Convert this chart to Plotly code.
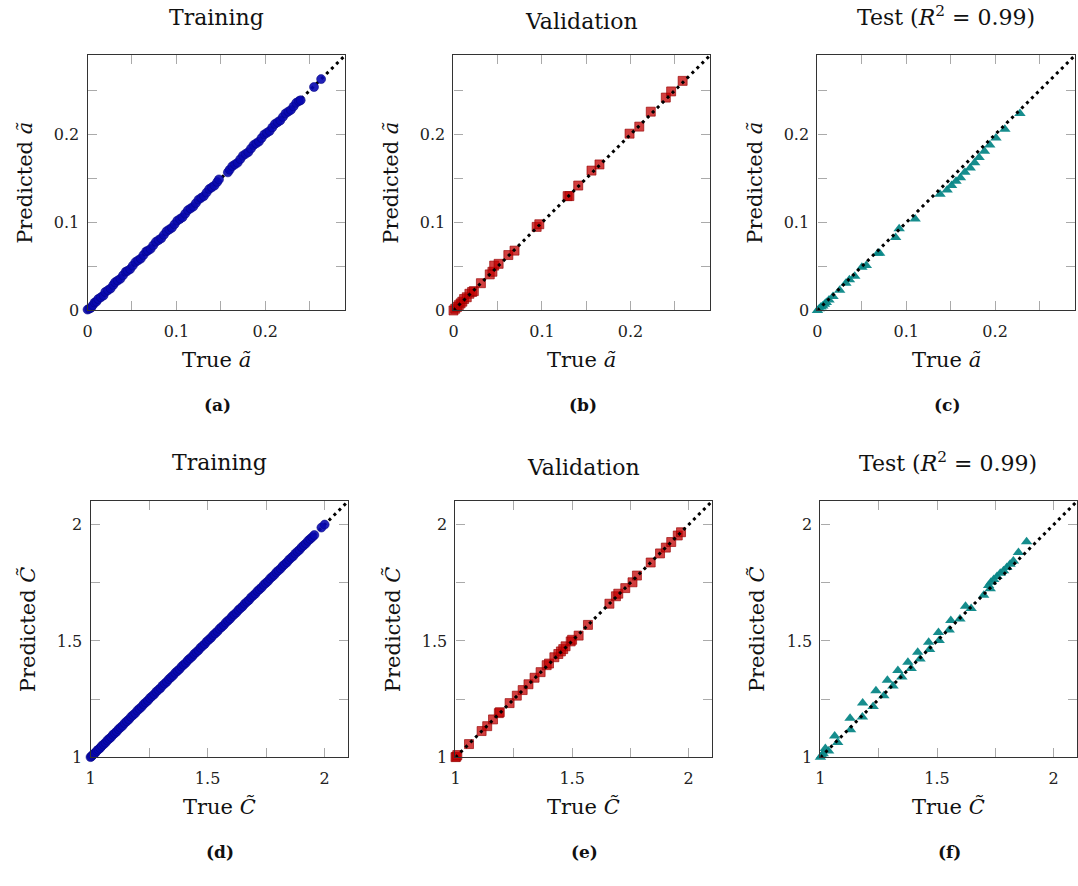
import plotly.graph_objects as go

W, H = 1078, 886

# ---------------- data ----------------
train_a_true = [0.000, 0.002, 0.004, 0.006, 0.008, 0.010, 0.012, 0.015, 0.018, 0.020,
                0.023, 0.026, 0.029, 0.031, 0.034, 0.037, 0.040, 0.043, 0.045, 0.048,
                0.051, 0.054, 0.057, 0.060, 0.063, 0.066, 0.068, 0.071, 0.074, 0.077,
                0.080, 0.083, 0.086, 0.089, 0.092, 0.095, 0.098, 0.101, 0.104, 0.107,
                0.110, 0.113, 0.116, 0.119, 0.122, 0.125, 0.128, 0.131, 0.134, 0.137,
                0.140, 0.143, 0.146, 0.148, 0.158, 0.160, 0.163, 0.166, 0.169, 0.172,
                0.175, 0.178, 0.181, 0.184, 0.187, 0.190, 0.193, 0.196, 0.199, 0.202,
                0.205, 0.208, 0.211, 0.214, 0.217, 0.220, 0.223, 0.226, 0.229, 0.232,
                0.235, 0.238, 0.240, 0.255, 0.263]
train_a_pred = [0.001, 0.002, 0.003, 0.006, 0.009, 0.010, 0.013, 0.015, 0.017, 0.021,
                0.023, 0.025, 0.029, 0.032, 0.034, 0.036, 0.040, 0.044, 0.045, 0.047,
                0.051, 0.055, 0.057, 0.059, 0.063, 0.067, 0.068, 0.070, 0.074, 0.078,
                0.080, 0.082, 0.086, 0.090, 0.092, 0.094, 0.098, 0.102, 0.104, 0.106,
                0.110, 0.114, 0.116, 0.118, 0.122, 0.126, 0.128, 0.130, 0.134, 0.138,
                0.140, 0.142, 0.146, 0.149, 0.157, 0.160, 0.164, 0.166, 0.168, 0.172,
                0.176, 0.178, 0.180, 0.184, 0.188, 0.190, 0.192, 0.196, 0.200, 0.202,
                0.204, 0.208, 0.212, 0.214, 0.216, 0.220, 0.224, 0.226, 0.228, 0.232,
                0.236, 0.238, 0.239, 0.254, 0.263]

val_a_true = [0.000, 0.002, 0.004, 0.006, 0.008, 0.010, 0.012, 0.015, 0.018, 0.021,
              0.023, 0.031, 0.041, 0.044, 0.046, 0.051, 0.062, 0.069, 0.094, 0.097,
              0.129, 0.131, 0.141, 0.156, 0.165, 0.199, 0.210, 0.223, 0.240, 0.246, 0.259]
val_a_pred = [0.000, 0.002, 0.004, 0.006, 0.008, 0.010, 0.013, 0.015, 0.019, 0.021,
              0.022, 0.031, 0.041, 0.044, 0.051, 0.053, 0.063, 0.068, 0.095, 0.098,
              0.130, 0.130, 0.142, 0.159, 0.166, 0.201, 0.209, 0.226, 0.242, 0.249, 0.261]

test_a_true = [0.000, 0.002, 0.004, 0.006, 0.008, 0.010, 0.013, 0.0175, 0.025, 0.032,
               0.036, 0.042, 0.050, 0.055, 0.068, 0.070, 0.088, 0.092, 0.110, 0.138,
               0.146, 0.151, 0.156, 0.161, 0.166, 0.172, 0.177, 0.182, 0.188, 0.194,
               0.201, 0.211, 0.228]
test_a_pred = [0.000, 0.002, 0.004, 0.005, 0.007, 0.009, 0.012, 0.0158, 0.023, 0.031,
               0.035, 0.039, 0.049, 0.051, 0.065, 0.065, 0.083, 0.093, 0.104, 0.132,
               0.137, 0.142, 0.147, 0.151, 0.157, 0.162, 0.168, 0.174, 0.181, 0.188,
               0.196, 0.206, 0.224]

train_C_true = [1.000, 1.004, 1.009, 1.015, 1.021, 1.027, 1.034, 1.041, 1.048, 1.056,
                1.064, 1.072, 1.080, 1.088, 1.096, 1.104, 1.112, 1.120, 1.128, 1.137,
                1.146, 1.155, 1.164, 1.173, 1.182, 1.191, 1.200, 1.209, 1.218, 1.227,
                1.236, 1.245, 1.254, 1.263, 1.272, 1.281, 1.290, 1.299, 1.308, 1.317,
                1.326, 1.335, 1.344, 1.353, 1.362, 1.371, 1.380, 1.389, 1.398, 1.407,
                1.416, 1.425, 1.434, 1.443, 1.452, 1.461, 1.470, 1.479, 1.488, 1.497,
                1.506, 1.515, 1.524, 1.533, 1.542, 1.551, 1.560, 1.569, 1.578, 1.587,
                1.596, 1.605, 1.614, 1.623, 1.632, 1.641, 1.650, 1.659, 1.668, 1.677,
                1.686, 1.695, 1.704, 1.713, 1.722, 1.731, 1.740, 1.749, 1.758, 1.767,
                1.776, 1.785, 1.794, 1.803, 1.812, 1.821, 1.830, 1.839, 1.848, 1.857,
                1.866, 1.875, 1.884, 1.893, 1.902, 1.911, 1.920, 1.929, 1.938, 1.947,
                1.956, 1.986, 2.000]
train_C_pred = [1.001, 1.004, 1.010, 1.015, 1.020, 1.028, 1.034, 1.040, 1.049, 1.056,
                1.063, 1.073, 1.080, 1.087, 1.097, 1.104, 1.111, 1.121, 1.128, 1.136,
                1.147, 1.155, 1.163, 1.174, 1.182, 1.190, 1.201, 1.209, 1.217, 1.228,
                1.236, 1.244, 1.255, 1.263, 1.271, 1.282, 1.290, 1.298, 1.309, 1.317,
                1.325, 1.336, 1.344, 1.352, 1.363, 1.371, 1.379, 1.390, 1.398, 1.406,
                1.417, 1.425, 1.433, 1.444, 1.452, 1.460, 1.471, 1.479, 1.487, 1.498,
                1.506, 1.514, 1.525, 1.533, 1.541, 1.552, 1.560, 1.568, 1.579, 1.587,
                1.595, 1.606, 1.614, 1.622, 1.633, 1.641, 1.649, 1.660, 1.668, 1.676,
                1.687, 1.695, 1.703, 1.714, 1.722, 1.730, 1.741, 1.749, 1.757, 1.768,
                1.776, 1.784, 1.795, 1.803, 1.811, 1.822, 1.830, 1.838, 1.849, 1.857,
                1.865, 1.876, 1.884, 1.892, 1.903, 1.911, 1.919, 1.930, 1.938, 1.946,
                1.955, 1.987, 2.000]

val_C_true = [1.000, 1.004, 1.008, 1.058, 1.112, 1.136, 1.161, 1.186, 1.190, 1.232,
              1.263, 1.288, 1.313, 1.339, 1.365, 1.391, 1.401, 1.424, 1.441, 1.452,
              1.462, 1.472, 1.494, 1.500, 1.528, 1.568, 1.660, 1.688, 1.698, 1.728,
              1.759, 1.778, 1.837, 1.877, 1.902, 1.925, 1.953, 1.967]
val_C_pred = [1.001, 1.003, 1.010, 1.057, 1.113, 1.134, 1.163, 1.190, 1.194, 1.233,
              1.265, 1.289, 1.314, 1.342, 1.366, 1.396, 1.403, 1.430, 1.444, 1.455,
              1.465, 1.477, 1.498, 1.505, 1.523, 1.569, 1.660, 1.692, 1.703, 1.727,
              1.752, 1.781, 1.837, 1.876, 1.901, 1.925, 1.953, 1.967]

test_C_true = [1.000, 1.006, 1.012, 1.021, 1.035, 1.061, 1.074, 1.127, 1.129, 1.181,
               1.180, 1.226, 1.238, 1.272, 1.287, 1.311, 1.332, 1.349, 1.375, 1.389,
               1.417, 1.427, 1.464, 1.468, 1.506, 1.509, 1.552, 1.559, 1.598, 1.622,
               1.646, 1.700, 1.721, 1.728, 1.731, 1.743, 1.757, 1.771, 1.785, 1.799,
               1.813, 1.827, 1.849, 1.884]
test_C_pred = [1.000, 1.008, 1.015, 1.038, 1.027, 1.092, 1.064, 1.168, 1.119, 1.233,
               1.173, 1.218, 1.286, 1.265, 1.331, 1.307, 1.373, 1.345, 1.409, 1.382,
               1.451, 1.423, 1.494, 1.463, 1.536, 1.502, 1.547, 1.588, 1.594, 1.649,
               1.639, 1.696, 1.738, 1.724, 1.752, 1.764, 1.777, 1.791, 1.802, 1.816,
               1.830, 1.844, 1.880, 1.926]

a_tickvals = [0, 0.05, 0.1, 0.15, 0.2, 0.25]
a_ticktext = ["0", "", "0.1", "", "0.2", ""]
a_range = [0, 0.29]
C_tickvals = [1, 1.25, 1.5, 1.75, 2]
C_ticktext = ["1", "", "1.5", "", "2"]
C_range = [1, 2.1]

panel_titles = ["Training", "Validation", "Test (<i>R</i><sup>2</sup> = 0.99)"] * 2
sub_labels = ["<b>(a)</b>", "<b>(b)</b>", "<b>(c)</b>", "<b>(d)</b>", "<b>(e)</b>", "<b>(f)</b>"]
x_titles = ["True <i>ã</i>"] * 3 + ["True <i>C̃</i>"] * 3
y_titles = ["Predicted <i>ã</i>"] * 3 + ["Predicted <i>C̃</i>"] * 3

# ---------------- layout geometry (pixels) ----------------
boxes = [  # (left, right, top, bottom)
    (83, 342, 56, 314), (451, 709, 56, 314), (817, 1076, 56, 314),
    (86, 345, 507, 766), (453, 711, 507, 766), (820, 1078, 507, 766),
]
title_pos = [(213, 18), (580, 22), (946, 16), (216, 468), (582, 473), (948, 467)]

FONT = "DejaVu Serif"
fig = go.Figure()

sets = [
    (train_a_true, train_a_pred, "train", a_range),
    (val_a_true, val_a_pred, "val", a_range),
    (test_a_true, test_a_pred, "test", a_range),
    (train_C_true, train_C_pred, "train", C_range),
    (val_C_true, val_C_pred, "val", C_range),
    (test_C_true, test_C_pred, "test", C_range),
]
styles = {
    "train": dict(symbol="circle", size=9, color="rgba(8,8,175,0.9)",
                  line=dict(width=0.6, color="rgba(5,5,130,0.9)")),
    "val": dict(symbol="square", size=9, color="rgba(195,0,0,0.75)",
                line=dict(width=0.8, color="rgba(150,0,0,0.8)")),
    "test": dict(symbol="triangle-up", size=10, color="rgba(10,135,135,0.95)",
                 line=dict(width=0)),
}

annotations = []
for i, (xs, ys, kind, rng) in enumerate(sets):
    n = i + 1
    xa = "x" if n == 1 else f"x{n}"
    ya = "y" if n == 1 else f"y{n}"
    line_tr = go.Scatter(x=rng, y=rng, mode="lines",
                         line=dict(color="black", width=3, dash="3px,4px"),
                         xaxis=xa, yaxis=ya, showlegend=False)
    mark_tr = go.Scatter(x=xs, y=ys, mode="markers", marker=styles[kind],
                         xaxis=xa, yaxis=ya, cliponaxis=False, showlegend=False)
    if kind == "train":
        fig.add_trace(line_tr)
        fig.add_trace(mark_tr)
    else:
        fig.add_trace(mark_tr)
        fig.add_trace(line_tr)
    l, r, t, b = boxes[i]
    tv, tt = (a_tickvals, a_ticktext) if i < 3 else (C_tickvals, C_ticktext)
    common = dict(range=rng, tickvals=tv, ticktext=tt, ticks="inside", ticklen=9,
                  tickcolor="#aaaaaa", tickwidth=1, showline=True, linecolor="#333333",
                  linewidth=1.2, mirror="ticks", showgrid=False, zeroline=False,
                  tickfont=dict(family=FONT, size=16, color="#222"))
    fig.layout[f"xaxis{'' if n == 1 else n}"] = dict(
        domain=[l / W, r / W], anchor=ya, ticklabelstandoff=6, **common)
    fig.layout[f"yaxis{'' if n == 1 else n}"] = dict(
        domain=[1 - b / H, 1 - t / H], anchor=xa, ticklabelstandoff=4, **common)

    cx = (l + r) / 2
    tx, ty = title_pos[i]
    annotations.append(dict(text=panel_titles[i], x=tx / W, y=1 - ty / H, xref="paper",
                            yref="paper", showarrow=False, xanchor="center", yanchor="middle",
                            font=dict(family=FONT, size=22, color="#111")))
    annotations.append(dict(text=x_titles[i], x=cx / W, y=1 - (b + 50) / H, xref="paper",
                            yref="paper", showarrow=False, xanchor="center", yanchor="middle",
                            font=dict(family=FONT, size=21, color="#111")))
    annotations.append(dict(text=y_titles[i], x=(l - 63) / W, y=1 - ((t + b) / 2) / H,
                            xref="paper", yref="paper", showarrow=False, textangle=-90,
                            xanchor="center", yanchor="middle",
                            font=dict(family=FONT, size=21, color="#111")))
    annotations.append(dict(text=sub_labels[i], x=(cx + 1) / W, y=1 - (b + 96) / H,
                            xref="paper", yref="paper", showarrow=False, xanchor="center",
                            yanchor="middle", font=dict(family=FONT, size=17, color="#111")))

fig.update_layout(width=W, height=H, margin=dict(l=0, r=0, t=0, b=0),
                  paper_bgcolor="white", plot_bgcolor="white",
                  annotations=annotations, showlegend=False)
fig.write_html("out.html")
